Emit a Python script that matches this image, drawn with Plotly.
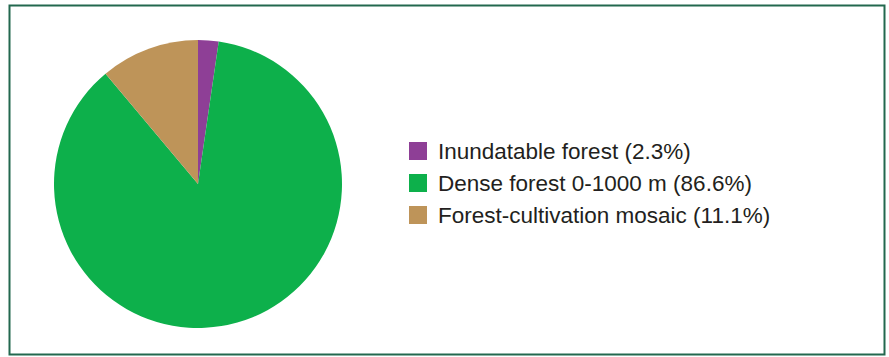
import plotly.graph_objects as go

W, H = 889, 357

categories = ["Inundatable forest", "Dense forest 0-1000 m", "Forest-cultivation mosaic"]
shares = [2.3, 86.6, 11.1]
colors = ["#8e3f96", "#0db04b", "#be9459"]

labels = [f"{c} ({v}%)" for c, v in zip(categories, shares)]

# pie geometry in pixels
cx, cy, r = 198, 184, 144

fig = go.Figure(go.Pie(
    labels=labels,
    values=shares,
    sort=False,
    direction="clockwise",
    rotation=0,
    marker=dict(colors=colors, line=dict(width=0)),
    textinfo="none",
    hoverinfo="label",
    showlegend=False,
    domain=dict(x=[(cx - r) / W, (cx + r) / W], y=[(H - cy - r) / H, (H - cy + r) / H]),
))

# custom legend
shapes = [dict(type="rect", xref="paper", yref="paper",
               x0=9.5 / W, x1=884.5 / W, y0=(H - 354.5) / H, y1=(H - 5.5) / H,
               line=dict(color="#23684f", width=2), fillcolor="rgba(0,0,0,0)", layer="above")]
annotations = []
row0, gap, sq = 151, 32, 18
for i, (lab, col) in enumerate(zip(labels, colors)):
    yc = row0 + i * gap
    shapes.append(dict(type="rect", xref="paper", yref="paper",
                       x0=409 / W, x1=(409 + sq) / W,
                       y0=(H - yc - sq / 2) / H, y1=(H - yc + sq / 2) / H,
                       line=dict(width=0), fillcolor=col))
    annotations.append(dict(text=lab, xref="paper", yref="paper",
                            x=435.5 / W, y=(H - yc - 0.5) / H, xanchor="left", yanchor="middle",
                            showarrow=False,
                            font=dict(family="Liberation Sans, Arial, sans-serif", size=22.5, color="#231f20")))

fig.update_layout(
    width=W, height=H,
    margin=dict(l=0, r=0, t=0, b=0),
    paper_bgcolor="white",
    plot_bgcolor="white",
    shapes=shapes,
    annotations=annotations,
)

fig.write_html("out.html")
